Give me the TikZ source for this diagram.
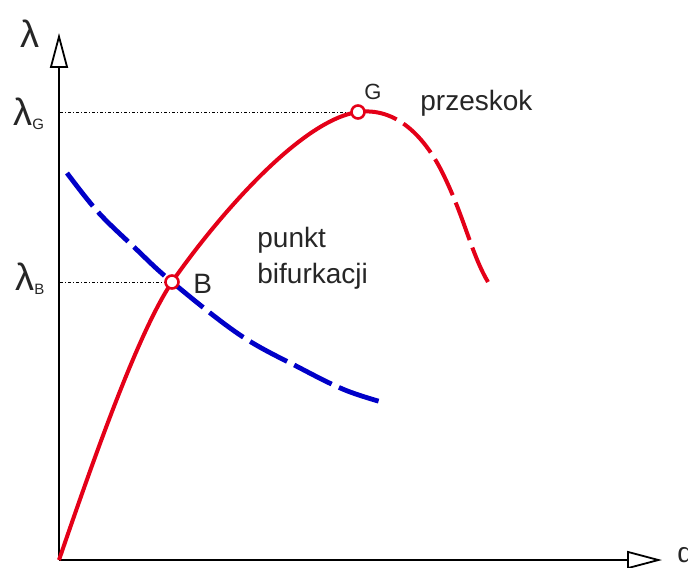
\documentclass[tikz,border=0pt]{standalone}
\usepackage{fontspec}
\setmainfont{Liberation Sans}
\usetikzlibrary{arrows.meta}
\definecolor{curvered}{RGB}{228,0,24}
\definecolor{curveblue}{RGB}{0,0,200}
\begin{document}
\begin{tikzpicture}[x=0.5pt,y=-0.5pt,
  >={Triangle[open,length=17.5pt,width=9pt]},
  axis/.style={line width=0.9pt,->},
  guide/.style={line width=0.5pt,dash pattern=on 1.5pt off 1pt on 0.5pt off 1pt},
  redline/.style={curvered,line width=2pt},
  blueline/.style={curveblue,line width=2.4pt,dash pattern=on 21pt off 4pt},
  crit/.style={circle,draw=curvered,fill=white,line width=1.3pt,minimum size=6.5pt,inner sep=0pt},
  lbl/.style={inner sep=0pt,anchor=base west,text=black!85,font=\fontsize{14}{18}\selectfont},
  lam/.style={inner sep=0pt,anchor=base west,text=black!85,font=\fontsize{19}{20}\selectfont}]
\useasboundingbox (0,0) rectangle (688,567);

\coordinate (O) at (59,560);
\coordinate (ytip) at (59,33);
\coordinate (xtip) at (662,560);
\coordinate (Bp) at (172,282);
\coordinate (Gp) at (358,112);
\coordinate (lamB) at (60,282);
\coordinate (lamG) at (60,112);

\draw[axis] (O) -- (ytip);
\draw[axis] (O) -- (xtip);
\node[lbl] (qlab) at (677,562) {q};

\node[lam] (lamtop) at (20,47) {λ};
\node[lam] (lamGlab) at (13,125) {λ\raisebox{-2pt}{\fontsize{7.5}{8}\selectfont G}};
\node[lam] (lamBlab) at (15,290) {λ\raisebox{-2pt}{\fontsize{7.5}{8}\selectfont B}};

\draw[guide] (lamG) -- (Gp);
\draw[guide] (lamB) -- (Bp);

\draw[redline] (O) .. controls (100,440) and (140,330) .. (Bp)
  .. controls (215,220) and (300,120) .. (Gp);
\draw[redline,dash pattern=on 20pt off 4pt] (Gp) .. controls (395,107) and (425,135) .. (445,178)
  .. controls (465,220) and (472,255) .. (488,282);
\draw[blueline] plot[smooth,tension=0.6] coordinates {(67,173) (98,212) (135,248) (Bp) (240,335) (300,368) (345,390) (385,403)};

\node[crit] (B) at (Bp) {};
\node[crit] (G) at (Gp) {};

\node[lbl] (Blab) at (193,293) {B};
\node[font=\fontsize{11}{13}\selectfont,text=black!85] (Glab) at (373,92) {G};
\node[lbl] (jump) at (420,110) {przeskok};
\node[lbl,align=left] (bif) at (257,283) {punkt\\bifurkacji};
\end{tikzpicture}
\end{document}
